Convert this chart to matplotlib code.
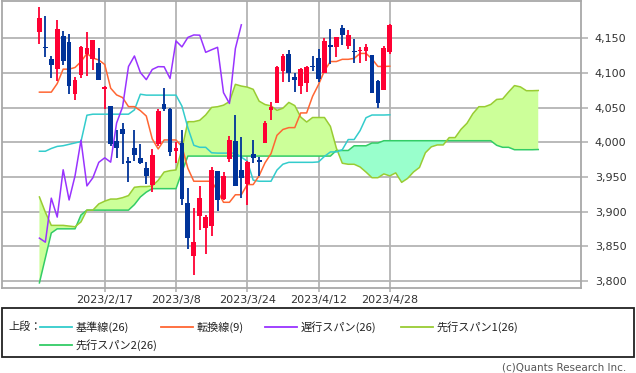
import matplotlib
matplotlib.use('Agg')
import matplotlib.pyplot as plt
from matplotlib.lines import Line2D
from matplotlib.patches import Rectangle
import numpy as np

# ---------------- data ----------------
dates = ['2023/2/2', '2023/2/3', '2023/2/6', '2023/2/7', '2023/2/8', '2023/2/9', '2023/2/10',
         '2023/2/13', '2023/2/14', '2023/2/15', '2023/2/16', '2023/2/17', '2023/2/21', '2023/2/22',
         '2023/2/23', '2023/2/24', '2023/2/27', '2023/2/28', '2023/3/1', '2023/3/2', '2023/3/3',
         '2023/3/6', '2023/3/7', '2023/3/8', '2023/3/9', '2023/3/10', '2023/3/13', '2023/3/14',
         '2023/3/15', '2023/3/16', '2023/3/17', '2023/3/20', '2023/3/21', '2023/3/22', '2023/3/23',
         '2023/3/24', '2023/3/27', '2023/3/28', '2023/3/29', '2023/3/30', '2023/3/31', '2023/4/3',
         '2023/4/4', '2023/4/5', '2023/4/6', '2023/4/10', '2023/4/11', '2023/4/12', '2023/4/13',
         '2023/4/14', '2023/4/17', '2023/4/18', '2023/4/19', '2023/4/20', '2023/4/21', '2023/4/24',
         '2023/4/25', '2023/4/26', '2023/4/27', '2023/4/28']

open_ = [4158.68, 4136.69, 4119.57, 4105.70, 4153.47, 4144.25, 4068.92, 4096.62, 4126.70, 4119.50,
         4114.75, 4077.39, 4052.35, 4001.83, 4018.60, 3973.24, 3992.36, 3977.19, 3963.34, 3938.68,
         3998.02, 4055.15, 4048.26, 3987.55, 3998.66, 3912.77, 3835.12, 3894.01, 3876.74, 3878.93,
         3958.69, 3917.47, 3975.89, 4002.04, 3959.21, 3939.21, 3982.93, 3974.13, 3999.53, 4046.74,
         4056.18, 4102.20, 4128.03, 4094.50, 4081.15, 4085.20, 4110.29, 4121.72, 4100.04, 4140.11,
         4137.17, 4164.26, 4139.33, 4130.48, 4132.14, 4132.07, 4126.43, 4087.78, 4075.29, 4129.63]
high = [4195.44, 4182.36, 4124.63, 4176.54, 4160.77, 4156.23, 4094.36, 4138.90, 4159.77, 4148.11,
        4136.54, 4081.51, 4052.35, 4017.37, 4028.30, 3978.25, 4018.05, 3997.50, 3971.73, 3990.84,
        4048.29, 4078.49, 4050.00, 4000.41, 4017.81, 3934.05, 3905.05, 3937.29, 3894.26, 3964.46,
        3958.91, 3956.62, 4009.08, 4039.49, 4007.66, 3972.74, 4003.83, 3979.20, 4030.59, 4057.85,
        4110.75, 4127.66, 4133.13, 4099.69, 4107.32, 4109.50, 4124.26, 4134.37, 4150.26, 4163.19,
        4151.72, 4169.48, 4162.57, 4148.57, 4138.02, 4142.41, 4126.43, 4089.67, 4138.24, 4170.06]
low = [4141.88, 4123.36, 4093.38, 4088.39, 4111.35, 4069.67, 4060.79, 4092.67, 4095.01, 4103.98,
       4089.63, 4047.95, 3995.19, 3976.90, 3969.19, 3943.08, 3973.55, 3968.98, 3939.05, 3928.16,
       3995.17, 4044.61, 3980.31, 3969.76, 3908.70, 3846.32, 3808.86, 3873.63, 3838.24, 3864.11,
       3901.27, 3916.89, 3971.19, 3936.17, 3919.05, 3909.16, 3970.49, 3951.53, 3999.53, 4032.10,
       4056.18, 4086.87, 4086.87, 4072.56, 4069.84, 4072.55, 4102.61, 4086.94, 4099.40, 4113.20,
       4123.18, 4140.36, 4134.49, 4114.57, 4113.86, 4117.77, 4071.38, 4049.35, 4075.29, 4127.18]
close = [4179.76, 4136.48, 4111.08, 4164.00, 4117.86, 4081.50, 4090.46, 4137.29, 4136.13, 4147.60,
         4090.41, 4079.09, 3997.34, 3991.05, 4012.32, 3970.04, 3982.24, 3970.15, 3951.39, 3981.35,
         4045.64, 4048.42, 3986.37, 3992.01, 3918.32, 3861.59, 3855.76, 3919.29, 3891.93, 3960.28,
         3916.64, 3951.57, 4002.87, 3936.97, 3948.72, 3970.99, 3977.53, 3971.27, 4027.81, 4050.83,
         4109.31, 4124.51, 4100.60, 4090.38, 4105.02, 4109.11, 4108.94, 4091.95, 4146.22, 4137.64,
         4151.32, 4154.87, 4154.52, 4129.79, 4133.52, 4137.04, 4071.63, 4055.99, 4135.35, 4169.48]

# 基準線(26)
kijun = [3987, 3987, 3991, 3994, 3995, 3997, 3999, 4001, 4039, 4040.5,
         4040.5, 4040.5, 4040.5, 4040.5, 4040.5, 4040.5, 4046.7, 4069.3, 4068, 4068,
         4068, 4068, 4068, 4068, 4052.1, 4020.9, 3995.6, 3992.7, 3992.7, 3984.8,
         3984.3, 3984.3, 3984.3, 3984.3, 3978.5, 3972.7, 3945.2, 3943.7, 3943.7, 3943.7,
         3959.8, 3968.3, 3971.0, 3971.0, 3971.0, 3971.0, 3971.0, 3971.6, 3979.6, 3986.0,
         3986.0, 3989.2, 4003.9, 4003.9, 4016.8, 4035.4, 4039.3, 4039.3, 4039.3, 4039.6]
# 転換線(9)
tenkan = [4072.3, 4072.3, 4072.3, 4084.7, 4105.5, 4105.5, 4107.9, 4116.3, 4128.1, 4121.6,
          4118.7, 4112.2, 4078.0, 4068.3, 4064.5, 4051.4, 4051.4, 4045.6, 4037.8, 4004.8,
          3990.3, 4003.3, 4003.3, 4003.3, 3993.6, 3962.4, 3943.7, 3943.7, 3943.7, 3943.7,
          3929.4, 3913.3, 3913.3, 3924.2, 3924.2, 3938.9, 3938.9, 3951.8, 3970.4, 3983.5,
          4010.0, 4018.4, 4021.1, 4021.1, 4042.3, 4042.3, 4066.3, 4083.2, 4103.2, 4116.5,
          4116.5, 4119.7, 4119.7, 4121.0, 4128.2, 4128.2, 4120.4, 4109.4, 4109.4, 4109.7]
# 先行スパン1(26), plotted from the first candle to 25 sessions ahead
senkou1 = [3921, 3899, 3880, 3880, 3880, 3879, 3878, 3885, 3902, 3902,
           3911, 3915, 3918, 3918, 3920, 3923, 3935, 3936, 3936, 3937,
           3945, 3957, 3959, 3960, 3990, 4029.7, 4029.7, 4031.7, 4039.4, 4050.3,
           4051.3, 4053.5, 4058.7, 4083.6, 4081.1, 4079.6, 4076.4, 4059.3, 4054.4, 4052.5,
           4046.0, 4049.1, 4057.5, 4052.9, 4036.4, 4029.2, 4035.7, 4035.7, 4035.7, 4022.9,
           3991.7, 3969.7, 3968.2, 3968.2, 3964.3, 3956.9, 3948.8, 3948.8, 3954.3, 3951.4,
           3955.8, 3942.1, 3947.8, 3957.1, 3963.6, 3984.9, 3993.4, 3996.1, 3996.1, 4006.7,
           4006.7, 4018.7, 4027.4, 4041.4, 4051.3, 4051.3, 4054.5, 4061.8, 4062.5, 4072.5,
           4081.8, 4079.9, 4074.4, 4074.4, 4074.7]
# 先行スパン2(26)
senkou2 = [3797, 3833, 3869, 3875, 3875, 3875, 3875, 3895, 3902, 3902,
           3902, 3902, 3902, 3902, 3902, 3902, 3910, 3921, 3928, 3933,
           3933, 3933, 3933, 3933, 3957, 3980, 3980, 3980, 3980, 3980,
           3980, 3980, 3980, 3980, 3980, 3980, 3980, 3980, 3980, 3980,
           3980, 3980, 3980, 3980, 3980, 3980, 3980, 3980, 3980, 3980,
           3988.1, 3988.1, 3988.1, 3994.9, 3994.9, 3994.9, 3998.9, 3998.9, 4002.2, 4002.2,
           4002.2, 4002.2, 4002.2, 4002.2, 4002.2, 4002.2, 4002.2, 4002.2, 4002.2, 4002.2,
           4002.2, 4002.2, 4002.2, 4002.2, 4002.2, 4002.2, 4002.2, 3995.6, 3992.7, 3992.7,
           3989.2, 3989.2, 3989.2, 3989.2, 3989.5]
chikou_shift = 25

tick_labels = ['2023/2/17', '2023/3/8', '2023/3/24', '2023/4/12', '2023/4/28']
y_ticks = [3800, 3850, 3900, 3950, 4000, 4050, 4100, 4150]

legend_items = [('基準線(26)', '#33cccc'), ('転換線(9)', '#ff6633'), ('遅行スパン(26)', '#9933ff'),
                ('先行スパン1(26)', '#99cc33'), ('先行スパン2(26)', '#33cc66')]

# ---------------- figure ----------------
W, H = 636, 373
fig = plt.figure(figsize=(W / 100, H / 100), dpi=100)
L, R, T, B = 2, 581, 0.5, 288
ax = fig.add_axes([L / W, 1 - B / H, (R - L) / W, (B - T) / H])

n = len(close)
xs = np.arange(n)
xsp = np.arange(len(senkou1))
s1 = np.array(senkou1)
s2 = np.array(senkou2)

grid_c = '#b4b4b4'
ax.set_xlim(-6.3, 91.2)
ax.set_ylim(3789.6, 4204.6)

tick_idx = [dates.index(t) for t in tick_labels]
ax.set_xticks(tick_idx)
ax.set_xticklabels(tick_labels)
ax.set_yticks(y_ticks)
ax.set_yticklabels([f'{v:,}' for v in y_ticks])
ax.grid(True, color=grid_c, lw=1.3, zorder=0)
ax.set_axisbelow(True)
ax.yaxis.tick_right()
ax.tick_params(axis='y', length=5, width=1.2, color=grid_c, labelsize=8, pad=5, labelcolor='#333333')
ax.tick_params(axis='x', length=3, width=1.2, color=grid_c, labelsize=8, pad=2, labelcolor='#333333')
for sp in ax.spines.values():
    sp.set_color('#a8a8a8')
    sp.set_linewidth(1.3)

# cloud
ax.fill_between(xsp, s1, s2, where=s1 >= s2, interpolate=True, color='#ccff99', lw=0, zorder=1)
ax.fill_between(xsp, s1, s2, where=s1 < s2, interpolate=True, color='#99ffcc', lw=0, zorder=1)
ax.plot(xsp, s2, color='#33cc66', lw=1.1, zorder=2)
ax.plot(xsp, s1, color='#99cc33', lw=1.1, zorder=2)

# indicator lines
ax.plot(xs, kijun, color='#33cccc', lw=1.1, zorder=3)
ax.plot(xs, tenkan, color='#ff6633', lw=1.1, zorder=3)
ax.plot(xs[:n - chikou_shift], close[chikou_shift:], color='#9933ff', lw=1.1, zorder=3)

# candles
o = np.array(open_); c = np.array(close)
cols = np.where(c >= o, '#ff0033', '#003399')
ax.vlines(xs, low, high, colors=cols, lw=1.3, zorder=4)
body = np.maximum(np.abs(c - o), 1.5)
ax.bar(xs, body, bottom=np.minimum(o, c), width=0.8, color=cols, lw=0, zorder=5)

# legend box
def fx(px):
    return px / W

def fy(py):
    return 1 - py / H

fig.patches.append(Rectangle((fx(2), fy(357)), fx(632), 49 / H, transform=fig.transFigure,
                             fill=False, edgecolor='#222222', lw=1.3))
jp = ['Noto Sans CJK JP', 'DejaVu Sans']
fig.text(fx(8), fy(327), '上段：', fontsize=8, family=jp, va='center', ha='left', color='#222222')
pos = [(40, 327), (161, 327), (265, 327), (401, 327), (40, 345)]
for (label, col), (px, py) in zip(legend_items, pos):
    fig.add_artist(Line2D([fx(px), fx(px + 32)], [fy(py), fy(py)], color=col, lw=1.3,
                          transform=fig.transFigure))
    fig.text(fx(px + 36), fy(py), label, fontsize=8, family=jp, va='center', ha='left',
             color='#222222')

fig.text(fx(626), fy(367), '(c)Quants Research Inc.', fontsize=7.5, family='DejaVu Sans',
         va='center', ha='right', color='#555555')

fig.savefig('out.png', dpi=100)
